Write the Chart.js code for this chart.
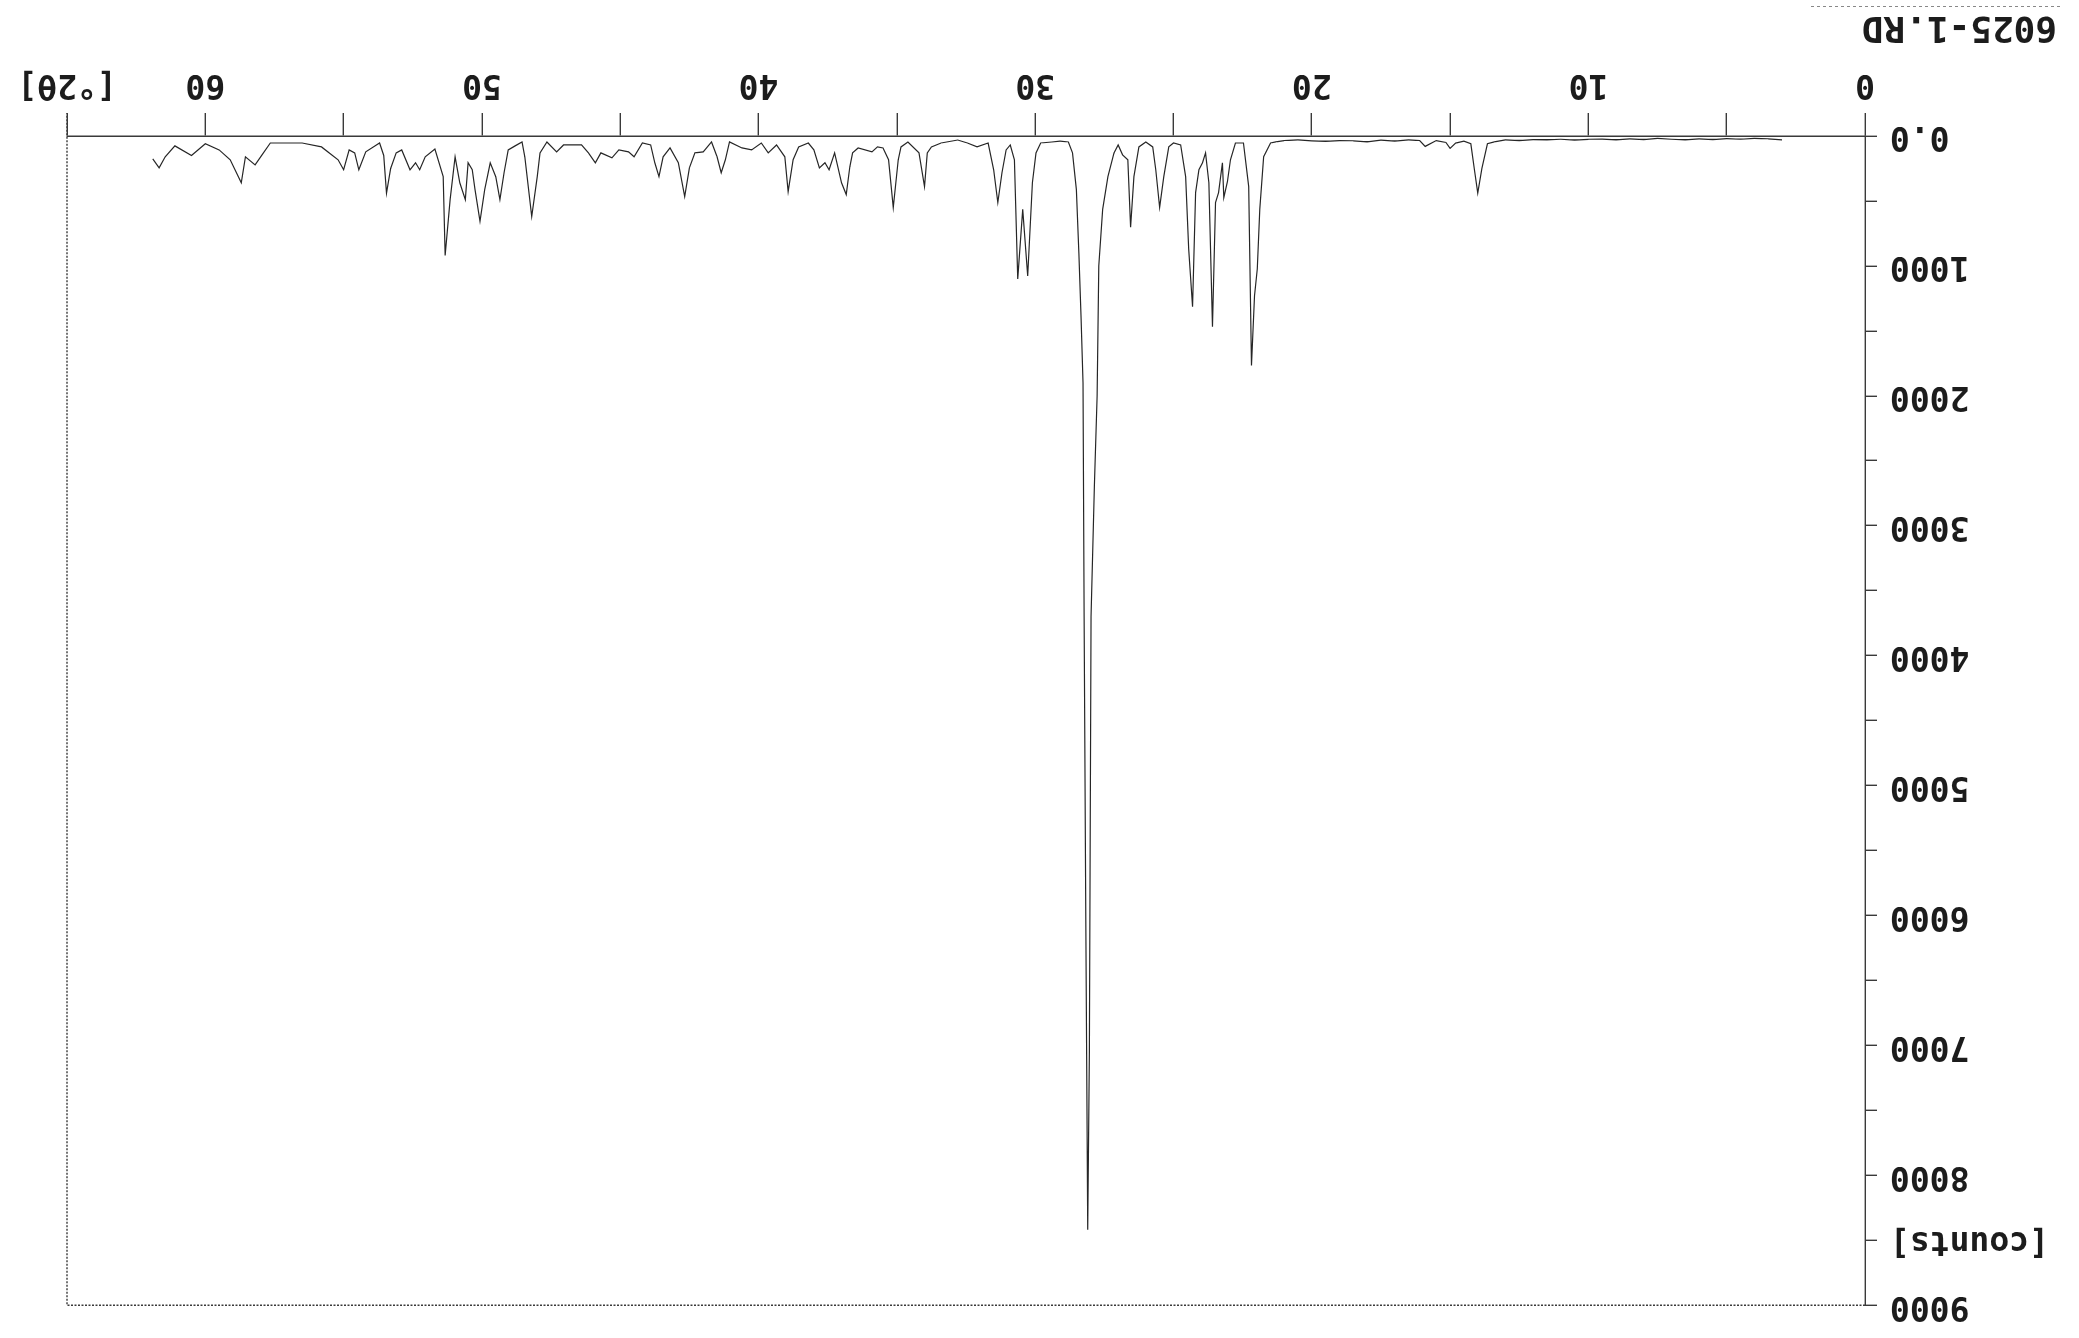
<!DOCTYPE html>
<html>
<head>
<meta charset="utf-8">
<title>6025-1.RD</title>
<script src="https://cdn.jsdelivr.net/npm/chart.js@4.4.1/dist/chart.umd.min.js"></script>
<style>
  html, body { margin: 0; padding: 0; background: #fff; overflow: hidden; }
  #wrap { width: 2079px; height: 1338px; transform: rotate(180deg); }
</style>
</head>
<body>
<div id="wrap"><canvas id="xrd" width="2079" height="1338"></canvas></div>
<script>
// Scan 6025-1.RD : diffraction angle [°2θ] vs intensity [counts]
const twoTheta = [
  3.0, 3.5, 4.0, 4.5, 5.0, 5.5, 6.0, 6.5, 7.0, 7.5, 8.0, 8.5, 9.0, 9.5,
  10.0, 10.5, 11.0, 11.5, 12.0, 12.5, 13.0, 13.4, 13.65, 13.85, 14.0, 14.12, 14.25,
  14.5, 14.8, 15.0, 15.15, 15.5, 15.9, 16.1, 16.5, 17.0, 17.5, 18.0, 18.5, 19.0,
  19.5, 20.0, 20.5, 21.0, 21.3,
  21.49, 21.74, 21.88, 21.97, 22.07, 22.18, 22.28, 22.47, 22.76, 22.94, 23.05,
  23.18, 23.23, 23.37, 23.48, 23.59, 23.72, 23.84, 23.95, 24.08, 24.2, 24.31,
  24.45, 24.56, 24.74, 25.0, 25.17, 25.35, 25.5, 25.64, 25.75, 26.0, 26.25,
  26.43, 26.55, 26.65, 26.84, 27.0, 27.15, 27.37, 27.56, 27.7, 27.76, 27.86,
  27.98, 28.04, 28.1, 28.17, 28.23, 28.27, 28.34, 28.42, 28.51, 28.65, 28.8,
  29.1, 29.4, 29.8, 29.97, 30.1, 30.27, 30.45, 30.63, 30.75, 30.9, 31.05,
  31.2, 31.35, 31.5, 31.7, 32.1, 32.45, 32.8, 33.4, 33.75, 33.9, 34.0, 34.2,
  34.6, 34.85, 34.95, 35.13, 35.3, 35.5, 35.7, 35.9, 36.4, 36.6, 36.7, 36.83,
  37.0, 37.25, 37.45, 37.6, 37.8, 38.0, 38.2, 38.55, 38.75, 38.93, 39.05,
  39.35, 39.65, 39.9, 40.25, 40.6, 41.05, 41.2, 41.35, 41.5, 41.7, 42.0, 42.3,
  42.5, 42.67, 42.9, 43.2, 43.45, 43.6, 43.75, 43.9, 44.2, 44.5, 44.7, 45.05,
  45.3, 45.7, 45.9, 46.15, 46.4, 47.05, 47.3, 47.65, 47.9, 48.0, 48.2, 48.45,
  48.55, 48.8, 49.05, 49.2, 49.35, 49.5, 49.7, 49.9, 50.07, 50.25, 50.35, 50.5,
  50.6, 50.8, 50.97, 51.15, 51.33, 51.4, 51.7, 52.05, 52.25, 52.4, 52.6, 52.9,
  53.1, 53.3, 53.45, 53.55, 53.7, 54.2, 54.45, 54.6, 54.8, 55.0, 55.2, 55.8,
  56.5, 57.2, 57.65, 57.95, 58.2, 58.55, 58.7, 59.1, 59.5, 60.0, 60.5, 61.1,
  61.45, 61.67, 61.9
];
const counts = [
  30, 22, 18, 25, 20, 28, 22, 30, 25, 18, 28, 22, 30, 24,
  26, 32, 25, 30, 28, 35, 30, 45, 60, 250, 440, 260, 60,
  40, 55, 95, 50, 35, 80, 35, 30, 40, 32, 45, 38, 35,
  42, 38, 30, 35, 45,
  54, 160, 565, 1024, 1230, 1766, 390, 54, 54, 183, 352,
  474, 206, 436, 512, 1468, 360, 130, 206, 260, 436, 1315,
  870, 313, 69, 54, 84, 313, 550, 260, 84, 46, 84,
  313, 703, 183, 145, 69, 130, 313, 565, 1000, 2000, 2700,
  3700, 7050, 8420, 6000, 3700, 1900, 1400, 900, 413, 130, 46,
  40, 46, 54, 130, 360, 1078, 565, 1100, 183, 69, 107,
  283, 512, 260, 54, 84, 54, 31, 54, 84, 130, 390, 130,
  46, 84, 183, 550, 183, 92, 84, 122, 92, 130, 237, 451,
  360, 130, 260, 206, 245, 107, 54, 84, 183, 428, 160,
  69, 130, 54, 107, 92, 46, 183, 283, 160, 46, 122, 130,
  245, 466, 206, 92, 160, 313, 206, 69, 54, 160, 122, 107,
  168, 130, 206, 130, 69, 69, 122, 46, 130, 313, 620, 160,
  46, 76, 107, 283, 490, 313, 206, 413, 657, 413, 260, 206,
  490, 360, 160, 490, 920, 313, 100, 160, 260, 206, 260, 107,
  130, 250, 440, 150, 54, 122, 260, 130, 107, 260, 183, 84,
  54, 54, 54, 145, 222, 160, 360, 183, 107, 60, 150, 76,
  160, 245, 176
];

// axis ticks: every 5 °2θ and every 500 counts, labelled at the round values
const xTicksLabelled = [0, 10, 20, 30, 40, 50, 60];
const yTicksLabelled = [1000, 2000, 3000, 4000, 5000, 6000, 7000, 8000, 9000];
const xUnit = '[°2θ]';
const yUnit = '[counts]';
const fileName = '6025-1.RD';

const ink = '#1c1c1c';
const frameInk = '#3a3a3a';
const dots = [2, 1.5];
const labelFont = { family: 'DejaVu Sans Mono', size: 33, weight: 'bold' };

// closes the plot box on the far sides and writes the file name
const frameAndName = {
  id: 'frameAndName',
  afterDraw(chart) {
    const { ctx, chartArea: a } = chart;
    ctx.save();
    ctx.strokeStyle = frameInk;
    ctx.lineWidth = 1.4;
    ctx.setLineDash(dots);
    ctx.beginPath();
    ctx.moveTo(a.left, a.top);
    ctx.lineTo(a.right, a.top);
    ctx.lineTo(a.right, a.bottom + 23);
    ctx.stroke();
    ctx.setLineDash([]);

    ctx.fillStyle = ink;
    ctx.font = 'bold 36px "DejaVu Sans Mono"';
    ctx.textAlign = 'left';
    ctx.textBaseline = 'alphabetic';
    ctx.fillText(fileName, 22, 1321);

    ctx.strokeStyle = '#888';
    ctx.lineWidth = 1;
    ctx.setLineDash([3, 3]);
    ctx.beginPath();
    ctx.moveTo(19, 1331.5);
    ctx.lineTo(270, 1331.5);
    ctx.stroke();
    ctx.restore();
  }
};

const points = twoTheta.map((t, i) => ({ x: t, y: counts[i] }));

new Chart(document.getElementById('xrd'), {
  type: 'line',
  data: {
    datasets: [{
      data: points,
      borderColor: '#262626',
      borderWidth: 1.2,
      pointRadius: 0,
      tension: 0,
      fill: false
    }]
  },
  options: {
    responsive: false,
    animation: false,
    devicePixelRatio: 1,
    layout: { padding: { top: 25, right: 67, left: 0, bottom: 0 } },
    plugins: {
      legend: { display: false },
      tooltip: { enabled: false }
    },
    scales: {
      x: {
        type: 'linear',
        min: 0,
        max: 65,
        afterFit: s => { s.height = 136; },
        border: { color: frameInk, width: 1.4, dash: dots },
        grid: { drawOnChartArea: false, tickLength: 23, color: frameInk, lineWidth: 1.4 },
        ticks: {
          stepSize: 5,
          autoSkip: false,
          maxRotation: 0,
          padding: 10,
          color: ink,
          font: labelFont,
          callback: v => v === 65 ? xUnit : (xTicksLabelled.includes(v) ? String(v) : '')
        }
      },
      y: {
        type: 'linear',
        min: 0,
        max: 9000,
        afterFit: s => { s.width = 214; },
        border: { color: frameInk, width: 1.4, dash: dots },
        grid: { drawOnChartArea: false, tickLength: 12, color: frameInk, lineWidth: 1.4 },
        ticks: {
          stepSize: 500,
          autoSkip: false,
          padding: 13,
          color: ink,
          font: labelFont,
          callback: v => v === 0 ? '0.0' : v === 8500 ? yUnit : (yTicksLabelled.includes(v) ? String(v) : '')
        }
      }
    }
  },
  plugins: [frameAndName]
});
</script>
</body>
</html>
